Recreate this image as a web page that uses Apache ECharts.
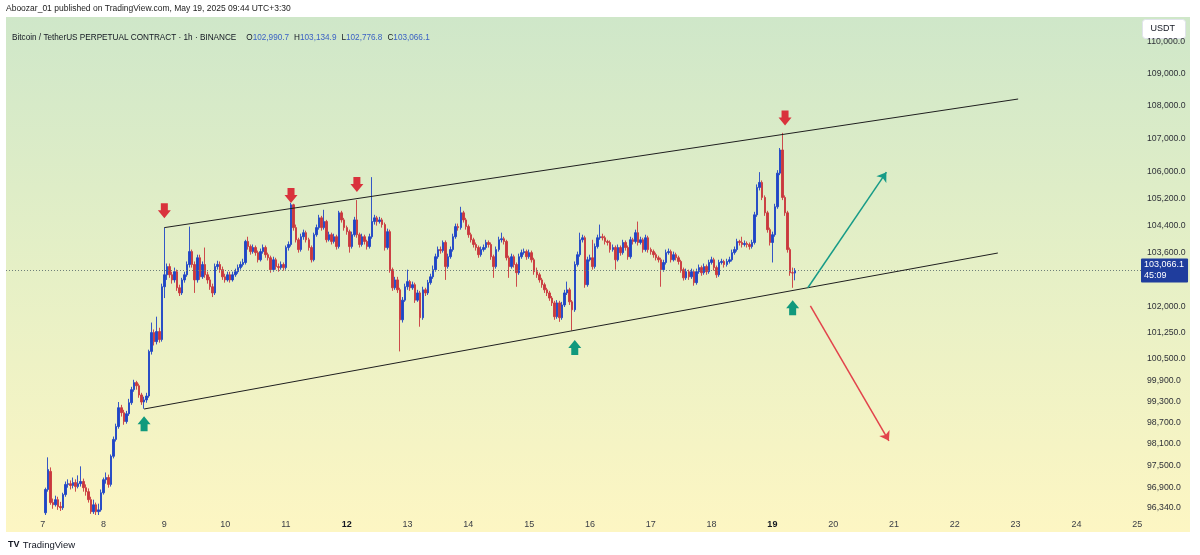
<!DOCTYPE html>
<html>
<head>
<meta charset="utf-8">
<title>BTCUSDT.P 1h</title>
<script src="https://cdn.jsdelivr.net/npm/echarts@6/dist/echarts.min.js"></script>
<style>
  html, body { margin: 0; padding: 0; background: #ffffff; }
  #chart { width: 1200px; height: 555px; }
</style>
</head>
<body>
<div id="chart"></div>
<script>
// hourly candles, [open, close, low, high], first one is 2025-05-07 01:00
const firstCandle = '2025-05-07 01:00'
const candles = [
  [96200, 96840, 96140, 96890], [96840, 97390, 96780, 97730], [97340, 96480, 96420, 97450], [96480, 96420, 96310, 96590],
  [96420, 96560, 96370, 96670], [96560, 96370, 96280, 96640], [96370, 96340, 96250, 96500], [96340, 96700, 96280, 96750],
  [96700, 96980, 96640, 97060], [96980, 97000, 96890, 97120], [97000, 96950, 96840, 97090], [96950, 97030, 96870, 97170],
  [97030, 96920, 96780, 97120], [96920, 97000, 96870, 97230], [97000, 97060, 96920, 97480], [97060, 96890, 96780, 97140],
  [96890, 96780, 96670, 96980], [96780, 96560, 96480, 96870], [96560, 96230, 96170, 96640], [96230, 96420, 96170, 96560],
  [96420, 96230, 96140, 96480], [96230, 96280, 96140, 96450], [96280, 96750, 96230, 96840], [96750, 97110, 96700, 97170],
  [97110, 97170, 97000, 97310], [97170, 96980, 96890, 97250], [96980, 97760, 96920, 97810], [97760, 98230, 97700, 98310],
  [98230, 98590, 98170, 98670], [98590, 99120, 98530, 99280], [99120, 98980, 98870, 99200], [98980, 98730, 98640, 99060],
  [98730, 98950, 98670, 99030], [98950, 99260, 98890, 99370], [99260, 99630, 99200, 99710], [99630, 99830, 99570, 99910],
  [99830, 99740, 99630, 99880], [99740, 99480, 99400, 99800], [99480, 99280, 99200, 99540], [99280, 99340, 99090, 99430],
  [99340, 99450, 99260, 99540], [99450, 100720, 99400, 100770], [100720, 101260, 100630, 101550], [101260, 101000, 100890, 101350],
  [101000, 101290, 100920, 101720], [101290, 101060, 100970, 101400], [101060, 102590, 101000, 102680], [102590, 102940, 102260, 104330],
  [102940, 103180, 102790, 103270], [103180, 102940, 102850, 103270], [102940, 102790, 102680, 103030], [102790, 103030, 102710, 103150],
  [103030, 102560, 102470, 103090], [102560, 102410, 102320, 102650], [102410, 102790, 102350, 102850], [102790, 102940, 102710, 103030],
  [102940, 103240, 102880, 103330], [103240, 103620, 103150, 104360], [103620, 103240, 103150, 103680], [103240, 102790, 102410, 103330],
  [102790, 103440, 102710, 103530], [103440, 102880, 102790, 103530], [102880, 103240, 102820, 103330], [103240, 102940, 102850, 103740],
  [102940, 102790, 102680, 103030], [102790, 102590, 102500, 102880], [102590, 102410, 102290, 102680], [102410, 103180, 102350, 103270],
  [103180, 103240, 103090, 103350], [103240, 103090, 103000, 103330], [103090, 102880, 102790, 103180], [102880, 102790, 102710, 102970],
  [102790, 102940, 102740, 103030], [102940, 102790, 102710, 103030], [102790, 102940, 102740, 103030], [102940, 103030, 102880, 103120],
  [103030, 103150, 102970, 103240], [103150, 103240, 103090, 103330], [103240, 103300, 103180, 103410], [103300, 103920, 103240, 103970],
  [103920, 103770, 103680, 104060], [103770, 103620, 103530, 103830], [103620, 103740, 103560, 103830], [103740, 103590, 103500, 103800],
  [103590, 103380, 103300, 103650], [103380, 103620, 103330, 103710], [103620, 103740, 103560, 103830], [103740, 103530, 103440, 103800],
  [103530, 103440, 103360, 103590], [103440, 103090, 103000, 103500], [103090, 103380, 103030, 103470], [103380, 103180, 103090, 103440],
  [103180, 103150, 103030, 103270], [103150, 103240, 103090, 103330], [103240, 103150, 103060, 103300], [103150, 103740, 103090, 103800],
  [103740, 103830, 103650, 103920], [103830, 105010, 103770, 105070], [105010, 104330, 104240, 105040], [104330, 103970, 103890, 104420],
  [103970, 103680, 103590, 104030], [103680, 104060, 103620, 104150], [104060, 104180, 103970, 104270], [104180, 103970, 103890, 104240],
  [103970, 103740, 103650, 104030], [103740, 103380, 103300, 103800], [103380, 104120, 103330, 104180], [104120, 104330, 104060, 104420],
  [104330, 104620, 104270, 104710], [104620, 104330, 104240, 104680], [104330, 104510, 104270, 104860], [104510, 103970, 103890, 104560],
  [103970, 104120, 103920, 104210], [104120, 103920, 103830, 104180], [103920, 104060, 103860, 104150], [104060, 103770, 103680, 104120],
  [103770, 104770, 103710, 104830], [104770, 104560, 104480, 104830], [104560, 104330, 104240, 104620], [104330, 104210, 104120, 104390],
  [104210, 103770, 103590, 104270], [103770, 104120, 103710, 104210], [104120, 104560, 104060, 104650], [104560, 104120, 104030, 105150],
  [104120, 103830, 103740, 104180], [103830, 104060, 103770, 104150], [104060, 103920, 103830, 104120], [103920, 103770, 103680, 103970],
  [103770, 104060, 103710, 104150], [104060, 104510, 104000, 105840], [104510, 104620, 104420, 104710], [104620, 104510, 104390, 104680],
  [104510, 104560, 104450, 104650], [104560, 104420, 104330, 104620], [104420, 103740, 103650, 104480], [103740, 104210, 103680, 104300],
  [104210, 103090, 103000, 104270], [103090, 102560, 102470, 103150], [102560, 102790, 102500, 102880], [102790, 102500, 102410, 102880],
  [102500, 101630, 100720, 102560], [101630, 102200, 101550, 102290], [102200, 102590, 102150, 102680], [102590, 102740, 102500, 103090],
  [102740, 102560, 102470, 102790], [102560, 102650, 102500, 102740], [102650, 102200, 102120, 102710], [102200, 102410, 102150, 102500],
  [102410, 101690, 101430, 102470], [101690, 102500, 101630, 102590], [102500, 102410, 102320, 102560], [102410, 102710, 102350, 102790],
  [102710, 102880, 102650, 102970], [102880, 103090, 102820, 103210], [103090, 103470, 103030, 103560], [103470, 103680, 103410, 103770],
  [103680, 103650, 103560, 103770], [103650, 103890, 103590, 103950], [103890, 103180, 102790, 103950], [103180, 103470, 103120, 103560],
  [103470, 103680, 103410, 103770], [103680, 104060, 103620, 104150], [104060, 104360, 104000, 104450], [104360, 104330, 104240, 104450],
  [104330, 104770, 104270, 104950], [104770, 104560, 104480, 104830], [104560, 104360, 104270, 104620], [104360, 104120, 104030, 104420],
  [104120, 103970, 103890, 104180], [103970, 103830, 103740, 104030], [103830, 103740, 103650, 103890], [103740, 103530, 103440, 103800],
  [103530, 103680, 103470, 103770], [103680, 103740, 103620, 103830], [103740, 103890, 103680, 103970], [103890, 103830, 103740, 103950],
  [103830, 103470, 103380, 103890], [103470, 103180, 102850, 103530], [103180, 103680, 103120, 103770], [103680, 103970, 103620, 104060],
  [103970, 104000, 103890, 104180], [104000, 103920, 103830, 104060], [103920, 103440, 103360, 103970], [103440, 103180, 102850, 103500],
  [103180, 103470, 103120, 103560], [103470, 103240, 103150, 103530], [103240, 103000, 102590, 103300], [103000, 103470, 102940, 103560],
  [103470, 103590, 103410, 103680], [103590, 103620, 103530, 103710], [103620, 103470, 103380, 103680], [103470, 103590, 103410, 103680],
  [103590, 103380, 103300, 103650], [103380, 103030, 102940, 103440], [103030, 102940, 102850, 103150], [102940, 102790, 102710, 103000],
  [102790, 102650, 102560, 102850], [102650, 102500, 102410, 102710], [102500, 102410, 102320, 102560], [102410, 102260, 102180, 102470],
  [102260, 102120, 102030, 102320], [102120, 101720, 101630, 102180], [101720, 102120, 101660, 102200], [102120, 101690, 101570, 102180],
  [101690, 102060, 101630, 102150], [102060, 102410, 102000, 102500], [102410, 102500, 102350, 102740], [102500, 102150, 102060, 102560],
  [102150, 101920, 101320, 102200], [101920, 103240, 101860, 103330], [103240, 103530, 103180, 103620], [103530, 103970, 103470, 104180],
  [103970, 104030, 103890, 104120], [104030, 102650, 102560, 104090], [102650, 103380, 102590, 103470], [103380, 103440, 103330, 103530],
  [103440, 103180, 103090, 103970], [103180, 103770, 103120, 103860], [103770, 104030, 103710, 104120], [104030, 104060, 103970, 104420],
  [104060, 104030, 103950, 104150], [104030, 103920, 103830, 104090], [103920, 103890, 103800, 103970], [103890, 103680, 103590, 103950],
  [103680, 103740, 103620, 103830], [103740, 103380, 103090, 103800], [103380, 103740, 103330, 103830], [103740, 103590, 103500, 103800],
  [103590, 103890, 103530, 103970], [103890, 103740, 103650, 103950], [103740, 103470, 103380, 103800], [103470, 103970, 103410, 104060],
  [103970, 103920, 103830, 104030], [103920, 104180, 103860, 104270], [104180, 103890, 103800, 104510], [103890, 103970, 103830, 104060],
  [103970, 103680, 103590, 104030], [103680, 104030, 103620, 104120], [104030, 103680, 103590, 104090], [103680, 103620, 103530, 103740],
  [103620, 103530, 103440, 103680], [103530, 103440, 103360, 103590], [103440, 103380, 103300, 103500], [103380, 103090, 102590, 103440],
  [103090, 103300, 103030, 103380], [103300, 103590, 103240, 103680], [103590, 103620, 103530, 103710], [103620, 103380, 103300, 103680],
  [103380, 103530, 103330, 103620], [103530, 103440, 103360, 103590], [103440, 103330, 103240, 103500], [103330, 103090, 103000, 103380],
  [103090, 102850, 102770, 103150], [102850, 103030, 102790, 103120], [103030, 102880, 102790, 103090], [102880, 103030, 102820, 103120],
  [103030, 102710, 102620, 103090], [102710, 103030, 102650, 103120], [103030, 103150, 102970, 103240], [103150, 103000, 102910, 103210],
  [103000, 103180, 102940, 103270], [103180, 103030, 102940, 103240], [103030, 103300, 102970, 103380], [103300, 103380, 103240, 103470],
  [103380, 103150, 103060, 103440], [103150, 102940, 102850, 103210], [102940, 103300, 102880, 103380], [103300, 103330, 103240, 103410],
  [103330, 103240, 103150, 103380], [103240, 103330, 103180, 103410], [103330, 103380, 103270, 103470], [103380, 103590, 103330, 103680],
  [103590, 103680, 103530, 103770], [103680, 103920, 103620, 104000], [103920, 103890, 103800, 103970], [103890, 103830, 103740, 104060],
  [103830, 103860, 103770, 103950], [103860, 103830, 103740, 103920], [103830, 103770, 103680, 103890], [103770, 103890, 103710, 103970],
  [103890, 104710, 103830, 104800], [104710, 105530, 104650, 105620], [105530, 105680, 105440, 105990], [105680, 105230, 105150, 105740],
  [105230, 104770, 104680, 105290], [104770, 104270, 104180, 104830], [104270, 103890, 103800, 104330], [103890, 104120, 103300, 104210],
  [104120, 104950, 104060, 105040], [104950, 105960, 104890, 106050], [105960, 106660, 105900, 106720], [106660, 105230, 105150, 107180],
  [105230, 104770, 104680, 105290], [104770, 103680, 103590, 104830], [103680, 103000, 102910, 103740], [103000, 102990, 102560, 103150],
  [102990.7, 103066.1, 102776.8, 103134.9]
]

// right scale labels
const priceTicks = [110000, 109000, 108000, 107000, 106000, 105200, 104400, 103600, 102000, 101250, 100500, 99900, 99300, 98700, 98100, 97500, 96900, 96340]
const lastPrice = 103066.1
const countdown = '45:09'
const boldDays = [12, 19]

// drawings: channel, signal arrows, projections
const upperChannel = [['2025-05-09 00:00', 104330], ['2025-05-23 01:00', 108218]]
const lowerChannel = [['2025-05-08 16:00', 99083], ['2025-05-22 17:00', 103579]]
const sellMarks = [['2025-05-09 00:00', 104830], ['2025-05-11 02:00', 105290], ['2025-05-12 04:00', 105620], ['2025-05-19 05:00', 107635]]
const buyMarks = [['2025-05-08 16:00', 98670], ['2025-05-15 18:00', 100830], ['2025-05-19 08:00', 101980]]
const bullPath = [['2025-05-19 14:00', 102560], ['2025-05-20 21:00', 105990]]
const bearPath = [['2025-05-19 15:00', 102030], ['2025-05-20 22:00', 98190]]

// hourly category axis from May 6 10:00 to May 25
const categories = []
const t0 = Date.UTC(2025, 4, 6, 10)
for (let k = 0; k < 448; k++) {
  const d = new Date(t0 + k * 3600000)
  categories.push(d.toISOString().slice(0, 13).replace('T', ' ') + ':00')
}
const firstIdx = categories.indexOf(firstCandle)
const seriesData = categories.map((c, k) => candles[k - firstIdx] || '-')

const last = candles[candles.length - 1]
const fmt = v => v.toLocaleString('en-US', { minimumFractionDigits: 1, maximumFractionDigits: 1 })

const upColor = '#1f45c6'
const downColor = '#c9383d'
const textFont = 'Helvetica, Arial, "Liberation Sans", sans-serif'

const downArrow = 'path://M3,0 L10,0 L10,7 L13,7 L6.5,15 L0,7 L3,7 Z'
const upArrow = 'path://M6.5,0 L13,8 L10,8 L10,15 L3,15 L3,8 L0,8 Z'

const chart = echarts.init(document.getElementById('chart'))
chart.setOption({
  animation: false,
  backgroundColor: '#ffffff',
  textStyle: { fontFamily: textFont },
  graphic: [
    {
      type: 'rect', z: -10, silent: true,
      shape: { x: 6, y: 17, width: 1184, height: 515 },
      style: {
        fill: new echarts.graphic.LinearGradient(0, 0, 0, 1, [
          { offset: 0, color: '#cfe7c9' },
          { offset: 0.5, color: '#e6f0c6' },
          { offset: 1, color: '#fdf6c3' }
        ])
      }
    },
    {
      type: 'text', left: 6, top: 4,
      style: { text: 'Aboozar_01 published on TradingView.com, May 19, 2025 09:44 UTC+3:30', fill: '#222', font: '8.5px ' + textFont }
    },
    {
      type: 'group', right: 14, top: 19, z: 20,
      children: [
        { type: 'rect', shape: { x: 0, y: 0, width: 43, height: 19, r: 3 }, style: { fill: '#ffffff', stroke: '#e0e3eb' } },
        { type: 'text', style: { x: 8, y: 5, text: 'USDT', fill: '#131722', font: '9px ' + textFont } }
      ]
    },
    {
      type: 'text', left: 8, top: 539,
      style: {
        text: '{l|TV} {t|TradingView}',
        rich: {
          l: { fontSize: 9, fontWeight: 'bold', fill: '#131722', fontFamily: textFont },
          t: { fontSize: 9.5, fill: '#131722', fontFamily: textFont }
        }
      }
    }
  ],
  title: {
    left: 7, top: 24,
    text: '{n|Bitcoin / TetherUS PERPETUAL CONTRACT · 1h · BINANCE}  {k|O}{v|' + fmt(last[0]) + '} {k|H}{v|' + fmt(last[3]) +
      '} {k|L}{v|' + fmt(last[2]) + '} {k|C}{v|' + fmt(last[1]) + '}',
    textStyle: {
      fontWeight: 'normal',
      rich: {
        n: { fontSize: 8.2, fontWeight: 'normal', color: '#131722', fontFamily: textFont },
        k: { fontSize: 8.2, fontWeight: 'normal', color: '#131722', fontFamily: textFont },
        v: { fontSize: 8.2, fontWeight: 'normal', color: '#3b62c4', fontFamily: textFont }
      }
    }
  },
  grid: { left: 6, top: 20, width: 1135, height: 497 },
  xAxis: {
    type: 'category',
    data: categories,
    boundaryGap: true,
    axisLine: { show: false },
    axisTick: { show: false },
    splitLine: { show: false },
    axisLabel: {
      interval: (i, v) => v.endsWith('00:00'),
      margin: 3,
      color: '#3a3d45',
      fontSize: 9,
      formatter: v => {
        const d = +v.slice(8, 10)
        return boldDays.includes(d) ? '{b|' + d + '}' : String(d)
      },
      rich: { b: { fontWeight: 'bold', color: '#131722', fontSize: 9 } }
    }
  },
  yAxis: {
    type: 'log',
    logBase: 10,
    min: 96085,
    max: 110678,
    axisLine: { show: false },
    axisTick: { show: false },
    axisLabel: { show: false },
    splitLine: { show: false }
  },
  series: [
    {
      type: 'candlestick',
      data: seriesData,
      barWidth: 2,
      itemStyle: {
        color: upColor, color0: downColor,
        borderColor: upColor, borderColor0: downColor,
        borderWidth: 0.9
      }
    },
    {
      type: 'line',
      data: [],
      clip: false,
      silent: true,
      markLine: {
        silent: true,
        symbol: 'none',
        animation: false,
        data: [
          ...priceTicks.map(v => ({
            yAxis: v,
            lineStyle: { width: 0, color: 'rgba(0,0,0,0)' },
            label: { show: true, position: 'end', distance: 6, formatter: fmt(v), color: '#2e3038', fontSize: 8.7 }
          })),
          {
            yAxis: lastPrice,
            lineStyle: { color: '#6f7f7a', type: [1, 2], width: 1 },
            label: {
              show: true, position: 'end', distance: 0,
              formatter: fmt(lastPrice) + '\n' + countdown,
              color: '#ffffff', fontSize: 9, lineHeight: 11,
              backgroundColor: '#1f3d9d', padding: [1, 4, 1, 3], borderRadius: 1
            }
          },
          [
            { coord: upperChannel[0], lineStyle: { color: '#1f1f1f', width: 1, type: 'solid' }, label: { show: false } },
            { coord: upperChannel[1] }
          ],
          [
            { coord: lowerChannel[0], lineStyle: { color: '#1f1f1f', width: 1, type: 'solid' }, label: { show: false } },
            { coord: lowerChannel[1] }
          ],
          [
            { coord: bullPath[0], symbol: 'none', lineStyle: { color: '#179b87', width: 1.5, type: 'solid' }, label: { show: false } },
            { coord: bullPath[1], symbol: 'arrow', symbolSize: 9 }
          ],
          [
            { coord: bearPath[0], symbol: 'none', lineStyle: { color: '#e2434b', width: 1.5, type: 'solid' }, label: { show: false } },
            { coord: bearPath[1], symbol: 'arrow', symbolSize: 9 }
          ]
        ]
      },
      markPoint: {
        silent: true,
        label: { show: false },
        data: [
          ...sellMarks.map(c => ({ coord: c, symbol: downArrow, symbolSize: [13, 15], itemStyle: { color: '#d9323c' } })),
          ...buyMarks.map(c => ({ coord: c, symbol: upArrow, symbolSize: [13, 15], itemStyle: { color: '#10997d' } }))
        ]
      }
    }
  ]
})
</script>
</body>
</html>
